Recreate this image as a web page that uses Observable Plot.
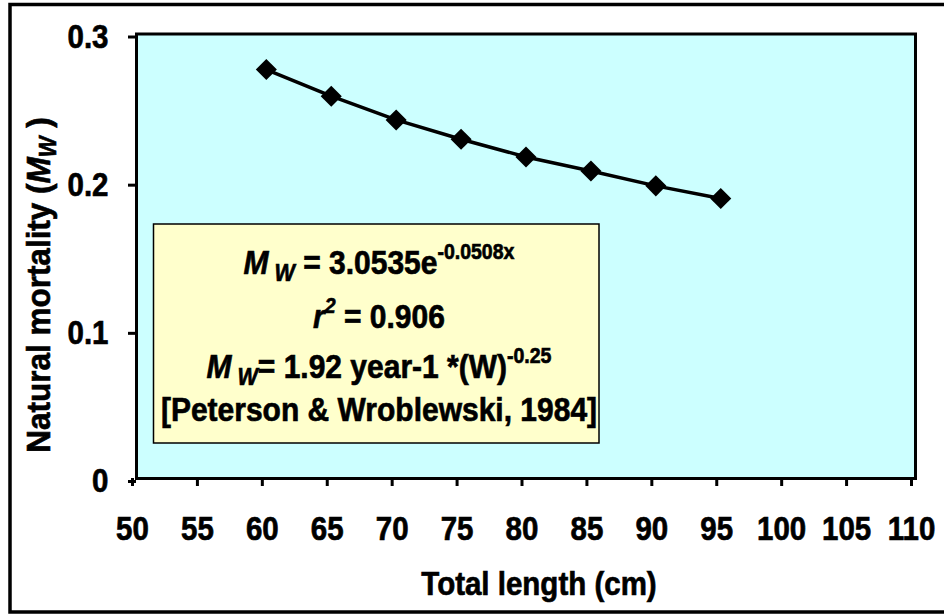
<!DOCTYPE html>
<html>
<head>
<meta charset="utf-8">
<script src="https://cdn.jsdelivr.net/npm/d3@7"></script>
<script src="https://cdn.jsdelivr.net/npm/@observablehq/plot@0.6"></script>
<style>
  html, body { margin: 0; padding: 0; background: #fff; }
  svg { display: block; }
</style>
</head>
<body>
<div id="chart"></div>
<script>
// Data
const lengths = [60, 65, 70, 75, 80, 85, 90, 95];
const mortality = [0.276, 0.258, 0.242, 0.229, 0.217, 0.2075, 0.1975, 0.189];
const xTicks = [50, 55, 60, 65, 70, 75, 80, 85, 90, 95, 100, 105, 110];
const yTicks = [0, 0.1, 0.2, 0.3];
const xTitle = "Total length (cm)";
const yTitle = "Natural mortality (";
const eqLines = {
  fit: "3.0535e", fitExp: "-0.0508x",
  r2: "0.906",
  pw: "= 1.92 year-1 *(W)", pwExp: "-0.25",
  ref: "[Peterson & Wroblewski, 1984]"
};

const data = lengths.map((x, i) => ({x, y: mortality[i]}));

const FONT = "'Liberation Sans', Arial, sans-serif";
const STRETCH = 1.12;

const plot = Plot.plot({
  width: 944,
  height: 616,
  marginLeft: 136,
  marginRight: 29,
  marginTop: 33.5,
  marginBottom: 138,
  style: {fontFamily: FONT, fontWeight: "bold", fontSize: "29px", background: "#fff", color: "#000", overflow: "visible"},
  x: {domain: [50, 110], label: null},
  y: {domain: [0, 0.3], label: null},
  marks: [
    Plot.frame({fill: "#CCFFFF"}),
    Plot.axisX({ticks: xTicks, tickFormat: d => String(d), tickSize: 8, tickPadding: 30, strokeWidth: 3, dx: -4, fontSize: 29.5, label: null}),
    Plot.axisY({ticks: yTicks, tickFormat: d => String(d), tickSize: 8, tickPadding: 20, strokeWidth: 3, dy: 3, fontSize: 29.5, label: null}),
    Plot.line(data, {x: "x", y: "y", stroke: "#000", strokeWidth: 3.5}),
    Plot.dot(data, {x: "x", y: "y", symbol: "diamond2", r: 9.5, fill: "#000", stroke: "none"}),
    Plot.frame({stroke: "#000", strokeWidth: 3})
  ]
});

document.getElementById("chart").appendChild(plot);

const svg = d3.select(plot);

// stretch axis tick labels vertically and thicken them slightly
svg.selectAll("g[aria-label='x-axis tick label'] text, g[aria-label='y-axis tick label'] text").each(function() {
  const el = d3.select(this);
  el.attr("transform", (el.attr("transform") || "") + ` scale(1,${STRETCH})`)
    .attr("stroke", "#000").attr("stroke-width", 0.6).attr("paint-order", "stroke");
});

// outer chart border
svg.append("rect")
  .attr("x", 10).attr("y", 4.5).attr("width", 940).attr("height", 607.5)
  .attr("fill", "none").attr("stroke", "#000").attr("stroke-width", 3.5);

// annotation box
const g = svg.append("g").attr("font-family", FONT).attr("font-weight", "bold").attr("fill", "#000")
  .attr("stroke", "#000").attr("stroke-width", 0.6);
g.append("rect")
  .attr("x", 153.5).attr("y", 224).attr("width", 445.5).attr("height", 219)
  .attr("fill", "#FFFFCC").attr("stroke", "#000").attr("stroke-width", 1.5);

function txt(x, y, anchor, size, rot) {
  return g.append("text")
    .attr("transform", `translate(${x},${y})` + (rot ? ` rotate(${rot}) scale(1.0,1.05)` : ` scale(1,${STRETCH})`))
    .attr("text-anchor", anchor).attr("font-size", size);
}

const cx = 379;
// line 1
let t = txt(cx, 274, "middle", 30);
t.append("tspan").attr("font-style", "italic").text("M");
t.append("tspan").attr("font-style", "italic").attr("font-size", 21.5).attr("dy", 6).text(" W");
t.append("tspan").attr("dy", -6).text(" = " + eqLines.fit);
t.append("tspan").attr("font-size", 19.5).attr("dy", -13).text(eqLines.fitExp);
// line 2
t = txt(cx, 328, "middle", 30);
t.append("tspan").attr("font-style", "italic").text("r");
t.append("tspan").attr("font-style", "italic").attr("font-size", 19.5).attr("dy", -13).text("2");
t.append("tspan").attr("dy", 13).text(" = " + eqLines.r2);
// line 3
t = txt(cx, 378, "middle", 30);
t.append("tspan").attr("font-style", "italic").text("M");
t.append("tspan").attr("font-style", "italic").attr("font-size", 21.5).attr("dy", 6).text(" W");
t.append("tspan").attr("dy", -6).text(eqLines.pw);
t.append("tspan").attr("font-size", 19.5).attr("dy", -13).text(eqLines.pwExp);
// line 4
txt(cx, 421, "middle", 30).text(eqLines.ref);

// axis titles
txt(539, 595, "middle", 29.5).text(xTitle);
t = txt(50, 285, "middle", 31.5, -90);
t.append("tspan").text(yTitle);
t.append("tspan").attr("font-style", "italic").text("M");
t.append("tspan").attr("font-style", "italic").attr("font-size", 22).attr("dy", 6).text("W");
t.append("tspan").attr("dy", -6).text(" )");
</script>
</body>
</html>
